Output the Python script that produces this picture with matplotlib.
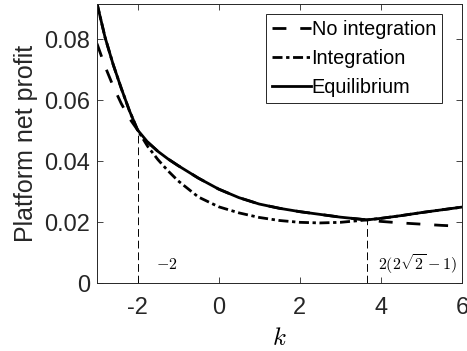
import matplotlib
matplotlib.use("Agg")
import matplotlib.pyplot as plt

plt.rcParams['font.family'] = ['Liberation Sans', 'DejaVu Sans']
plt.rcParams['mathtext.fontset'] = 'cm'

# k grid and the curves
k = [-3.0, -2.8, -2.6, -2.4, -2.2, -2.0, -1.75, -1.5, -1.25, -1.0, -0.5, 0.0,
     0.5, 1.0, 1.5, 2.0, 2.5, 3.0, 3.657, 4.0, 4.5, 5.0, 5.5, 6.0]

no_integration = [0.0785, 0.0710, 0.0645, 0.0588, 0.0540, 0.0502, 0.0462, 0.0432,
                  0.0407, 0.0385, 0.0344, 0.0308, 0.0280, 0.0259, 0.0245, 0.0234,
                  0.0225, 0.0216, 0.0207, 0.0202, 0.0197, 0.0193, 0.0189, 0.0186]

integration = [0.0917, 0.0805, 0.0716, 0.0638, 0.0565, 0.0502, 0.0448, 0.0405,
               0.0368, 0.0335, 0.0282, 0.0250, 0.0230, 0.0215, 0.0205, 0.0199,
               0.0197, 0.0199, 0.0207, 0.0212, 0.0221, 0.0231, 0.0240, 0.0249]

equilibrium = [0.0917, 0.0805, 0.0716, 0.0638, 0.0565, 0.0502, 0.0462, 0.0432,
               0.0407, 0.0385, 0.0344, 0.0308, 0.0280, 0.0259, 0.0245, 0.0234,
               0.0225, 0.0216, 0.0207, 0.0212, 0.0221, 0.0231, 0.0240, 0.0249]

k_marks = [-2.0, 3.657]
k_mark_vals = [0.0502, 0.0207]
k_mark_labels = [r'$-2$', r'$2(2\sqrt{2}-1)$']

xticks = [-2, 0, 2, 4, 6]
yticks = [0, 0.02, 0.04, 0.06, 0.08]

fig = plt.figure(figsize=(4.67, 3.51), dpi=100)
ax = fig.add_axes([0.2077, 0.1937, 0.7816, 0.7949])

axc = '#262626'
ax.plot(k, no_integration, color='black', lw=2, linestyle=(0, (5, 5)), label='No integration')
ax.plot(k, integration, color='black', lw=2, linestyle=(0, (3.6, 1.3, 1.2, 1.3)), label='Integration')
ax.plot(k, equilibrium, color='black', lw=2, linestyle='-', label='Equilibrium')

for xm, ym in zip(k_marks, k_mark_vals):
    ax.plot([xm, xm], [0, ym], color='black', lw=0.7, linestyle=(0, (8, 4)))

ax.text(-1.55, 0.0062, k_mark_labels[0], fontsize=11.5, va='center', ha='left')
ax.text(3.93, 0.0062, k_mark_labels[1], fontsize=11.5, va='center', ha='left')

ax.set_xlim(-3, 6)
ax.set_ylim(0, 0.0915)
ax.set_xticks(xticks)
ax.set_xticklabels(['-2', '0', '2', '4', '6'])
ax.set_yticks(yticks)
ax.set_yticklabels(['0', '0.02', '0.04', '0.06', '0.08'])

ax.tick_params(direction='in', top=True, right=True, length=4, width=0.6,
               colors=axc, labelsize=17, labelcolor=axc)
ax.tick_params(axis='x', pad=10)
ax.tick_params(axis='y', pad=5)
for s in ax.spines.values():
    s.set_color(axc)
    s.set_linewidth(0.7)

ax.set_xlabel(r'$k$', fontsize=18, labelpad=5)
ax.set_ylabel('Platform net profit', fontsize=18, color=axc, labelpad=4)

leg = ax.legend(loc='upper right', bbox_to_anchor=(0.945, 0.964), fontsize=14.3,
                handlelength=1.95, handletextpad=0.05, borderpad=0.3,
                labelspacing=0.5, borderaxespad=0, fancybox=False, framealpha=1)
leg.get_frame().set_edgecolor(axc)
leg.get_frame().set_linewidth(0.7)

fig.savefig('out.png', dpi=100)
